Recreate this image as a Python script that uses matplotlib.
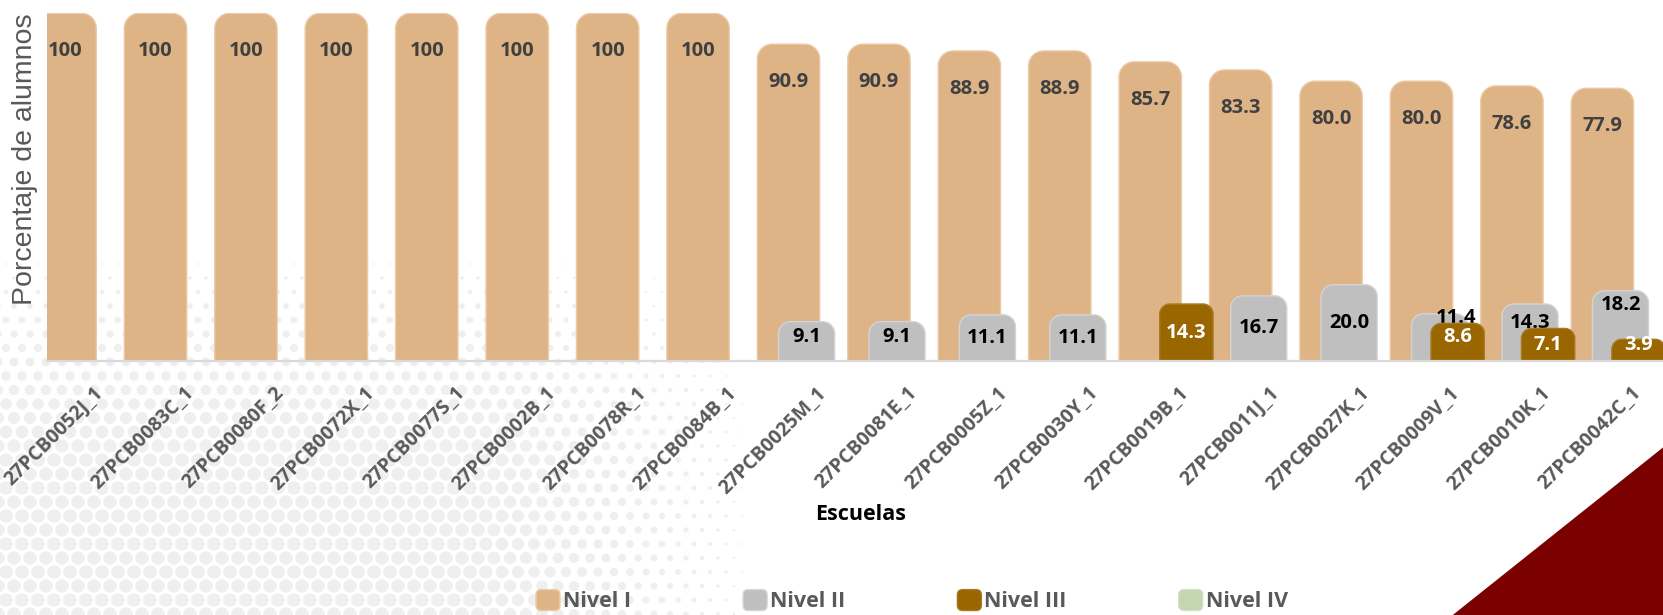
import numpy as np
import matplotlib
matplotlib.use("Agg")
import matplotlib.pyplot as plt
from matplotlib.path import Path
from matplotlib.patches import PathPatch, FancyBboxPatch, Polygon, Patch
from matplotlib.legend_handler import HandlerPatch
from matplotlib.transforms import ScaledTranslation

nan = np.nan

# ---------------- data ----------------
escuelas = ["27PCB0052J_1", "27PCB0083C_1", "27PCB0080F_2", "27PCB0072X_1",
            "27PCB0077S_1", "27PCB0002B_1", "27PCB0078R_1", "27PCB0084B_1",
            "27PCB0025M_1", "27PCB0081E_1", "27PCB0005Z_1", "27PCB0030Y_1",
            "27PCB0019B_1", "27PCB0011J_1", "27PCB0027K_1", "27PCB0009V_1",
            "27PCB0010K_1", "27PCB0042C_1"]
nivel_1 = [100, 100, 100, 100, 100, 100, 100, 100, 90.9, 90.9, 88.9, 88.9,
           85.7, 83.3, 80.0, 80.0, 78.6, 77.9]
nivel_2 = [nan, nan, nan, nan, nan, nan, nan, nan, 9.1, 9.1, 11.1, 11.1,
           nan, 16.7, 20.0, 11.4, 14.3, 18.2]
nivel_3 = [nan, nan, nan, nan, nan, nan, nan, nan, nan, nan, nan, nan,
           14.3, nan, nan, 8.6, 7.1, 3.9]
nivel_4 = [nan, nan, nan, nan, nan, nan, nan, nan, nan, nan, nan, nan,
           nan, nan, nan, nan, nan, nan]
series_names = ["Nivel I", "Nivel II", "Nivel III", "Nivel IV"]

# ---------------- style ----------------
FONT = ["Open Sans", "DejaVu Sans"]
W, H = 1663, 615
DPI = 100
BASE = -2.5          # value where the horizontal axis crosses
YMAX = 100

fig = plt.figure(figsize=(W / DPI, H / DPI), dpi=DPI)
fig.patch.set_facecolor("white")

# background decoration (halftone dots + maroon corner)
bg = fig.add_axes([0, 0, 1, 1], zorder=-5)
bg.set_xlim(0, W)
bg.set_ylim(H, 0)
bg.axis("off")
gx = np.arange(-10, 820, 16.0)
gy = np.arange(236, 640, 14.0)
GX, GY = np.meshgrid(gx, gy)
GX = GX + (np.arange(len(gy))[:, None] % 2) * 8.0
fy = np.clip((GY - 250) / 200, 0, 1) ** 0.7
fx = np.clip((760 - GX) / 280, 0, 1) ** 0.7
dia = 13.5 * fy * fx
m = dia > 1.5
bg.scatter(GX[m], GY[m], s=(dia[m] * 0.72) ** 2, c="#EFEFEF", linewidths=0)
bg.add_patch(Polygon([(1446.5, H + 5), (W + 5, 443.5), (W + 5, H + 5)],
                     closed=True, facecolor="#7B0000", edgecolor="none"))

# main axes
left_px, right_px, top_px, bot_px = 47, 1674.7, 13.3, 361
ax = fig.add_axes([left_px / W, 1 - bot_px / H,
                   (right_px - left_px) / W, (bot_px - top_px) / H], zorder=1)
ax.set_facecolor("none")
n = len(escuelas)
x = np.arange(n)
ax.set_xlim(-0.5, n - 0.5)
ax.set_ylim(BASE, YMAX)
ppx = (right_px - left_px) / n
ppy = (bot_px - top_px) / (YMAX - BASE)

k = 0.5523


def rounded_top(rect, r_px, **kw):
    x0, y0, w, h = rect.get_x(), rect.get_y(), rect.get_width(), rect.get_height()
    rx = min(r_px / ppx, w / 2)
    ry = min(r_px / ppy, h)
    t = y0 + h
    verts = [(x0, y0), (x0, t - ry), (x0, t - ry + k * ry), (x0 + rx - k * rx, t),
             (x0 + rx, t), (x0 + w - rx, t), (x0 + w - rx + k * rx, t),
             (x0 + w, t - ry + k * ry), (x0 + w, t - ry), (x0 + w, y0), (x0, y0)]
    codes = [Path.MOVETO, Path.LINETO, Path.CURVE4, Path.CURVE4, Path.CURVE4,
             Path.LINETO, Path.CURVE4, Path.CURVE4, Path.CURVE4, Path.LINETO,
             Path.CLOSEPOLY]
    p = PathPatch(Path(verts, codes), **kw)
    ax.add_patch(p)
    return p


series = [
    dict(vals=nivel_1, color="#DEB486", edge="#EBCBA6", width=0.69, off=-0.3,
         r=15, tcolor="#404040", z=2, mode="inside_end"),
    dict(vals=nivel_2, color="#BFBFBF", edge="#D4D4D4", width=0.62, off=-0.1,
         r=12, tcolor="#000000", z=3, mode="center"),
    dict(vals=nivel_3, color="#996600", edge="#A87A26", width=0.59, off=0.1,
         r=10, tcolor="#FFFFFF", z=4, mode="center"),
    dict(vals=nivel_4, color="#C4D6B0", edge="#D3E0C5", width=0.59, off=0.3,
         r=10, tcolor="#000000", z=5, mode="center"),
]
# manual label nudges (pixels: dx, dy-up) as in the reference
nudges = {1: {8: (0, 4), 9: (0, 4), 15: (16, 19), 16: (0, 10), 17: (0, 21)},
          2: {15: (0, 5), 17: (0, 5)}}

for si, s in enumerate(series):
    vals = np.array(s["vals"], dtype=float)
    heights = vals - BASE
    bars = ax.bar(x + s["off"], heights, s["width"], bottom=BASE,
                  color=s["color"], zorder=s["z"])
    for i, (rect, v) in enumerate(zip(bars, vals)):
        rect.set_visible(False)
        if np.isnan(v):
            continue
        rounded_top(rect, s["r"], facecolor=s["color"], edgecolor=s["edge"],
                    lw=1, zorder=s["z"])
        txt = "100" if v == 100 else f"{v:.1f}"
        cx = rect.get_x() + rect.get_width() / 2
        if s["mode"] == "inside_end":
            ax.annotate(txt, (cx, v), xytext=(0, -38 * 72 / DPI),
                        textcoords="offset points", ha="center", va="center",
                        fontsize=14.5, fontweight="bold", color=s["tcolor"],
                        family=FONT, zorder=s["z"] + 0.5)
        else:
            dx, dy = nudges.get(si, {}).get(i, (0, 0))
            ax.annotate(txt, (cx, (BASE + v) / 2),
                        xytext=(dx * 72 / DPI, dy * 72 / DPI),
                        textcoords="offset points", ha="center", va="center",
                        fontsize=14.5, fontweight="bold", color=s["tcolor"],
                        family=FONT, zorder=s["z"] + 0.5)

# axes styling
for side in ["left", "right", "top"]:
    ax.spines[side].set_visible(False)
ax.spines["bottom"].set_color("#D9D9D9")
ax.spines["bottom"].set_linewidth(1.6)
ax.spines["bottom"].set_zorder(10)
ax.set_yticks([])
ax.set_xticks(x)
ax.set_xticklabels(escuelas, rotation=45, ha="right", va="center",
                   rotation_mode="anchor", fontsize=14, fontweight="bold",
                   color="#595959", family=FONT)
ax.tick_params(axis="x", length=0, pad=21)
for lab in ax.get_xticklabels():
    lab.set_transform(lab.get_transform() + ScaledTranslation(8 / DPI, 0, fig.dpi_scale_trans))

ax.set_ylabel("Porcentaje de alumnos", fontsize=20.5, color="#595959",
              family=["Liberation Sans", "DejaVu Sans"], va="center")
ax.yaxis.set_label_coords((25 - left_px) / (right_px - left_px),
                          (bot_px - 159) / (bot_px - top_px))
ax.set_xlabel("Escuelas", fontsize=15.5, fontweight="bold", color="black",
              family=FONT, va="center")
ax.xaxis.set_label_coords((861 - left_px) / (right_px - left_px),
                          (bot_px - 515) / (bot_px - top_px))


# legend with rounded square markers
class RoundHandler(HandlerPatch):
    def create_artists(self, legend, orig_handle, xdescent, ydescent, width,
                       height, fontsize, trans):
        p = FancyBboxPatch((-xdescent, -ydescent), width, height,
                           boxstyle=f"round,pad=0,rounding_size={0.25 * height}",
                           facecolor=orig_handle.get_facecolor(),
                           edgecolor=orig_handle.get_edgecolor(), lw=1,
                           transform=trans)
        return [p]


LFS = 15.5
lfs_px = LFS * DPI / 72
handles = [Patch(facecolor=s["color"], edgecolor=s["edge"]) for s in series]
fig.legend(handles, series_names, loc="center left",
           bbox_to_anchor=(536 / W, 1 - 601 / H), ncol=4, frameon=False,
           handlelength=24 / lfs_px, handleheight=24 / lfs_px,
           handletextpad=3 / lfs_px, columnspacing=112 / lfs_px,
           borderpad=0, borderaxespad=0,
           prop={"family": FONT, "weight": "bold", "size": LFS},
           labelcolor="#595959",
           handler_map={Patch: RoundHandler()})

fig.savefig("out.png", dpi=DPI)
